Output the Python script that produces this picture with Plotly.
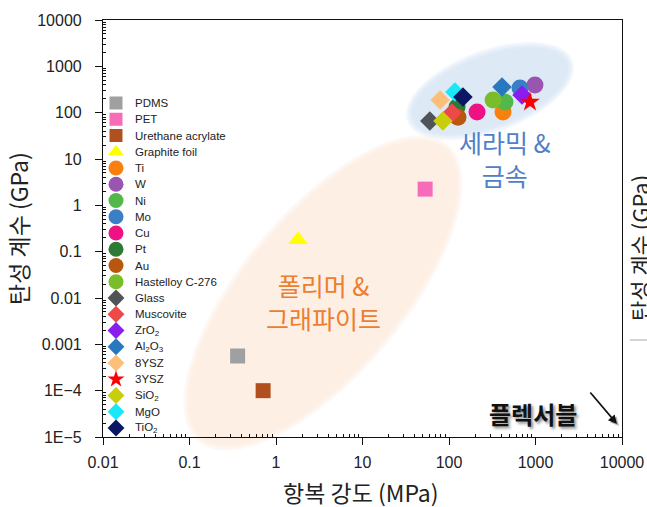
import numpy as np
import plotly.graph_objects as go

# ---- data: yield strength (MPa) vs. elastic modulus (GPa) ----
materials = ["PDMS", "PET", "Urethane acrylate", "Graphite foil", "Ti", "W", "Ni", "Mo",
             "Cu", "Pt", "Au", "Hastelloy C-276", "Glass", "Muscovite", "ZrO<sub>2</sub>",
             "Al<sub>2</sub>O<sub>3</sub>", "8YSZ", "3YSZ", "SiO<sub>2</sub>", "MgO", "TiO<sub>2</sub>"]
yield_strength = [0.36, 53, 0.71, 1.8, 421, 986, 444, 662,
                  211, 124, 127, 323, 60, 108, 698,
                  410, 79, 863, 85, 117, 145]
modulus = [0.00056, 2.24, 0.0001, 0.18, 103, 394, 169, 340,
           103, 132, 80, 187, 66, 98, 240,
           357, 187, 169, 66, 279, 217]
symbols = ["square", "square", "square", "triangle-up", "circle", "circle", "circle", "circle",
           "circle", "circle", "circle", "circle", "diamond", "diamond", "diamond",
           "diamond", "diamond", "star", "diamond", "diamond", "diamond"]
colors = ["#a0a0a0", "#f76cb8", "#b0501e", "#ffff00", "#f7800f", "#9a55b0", "#52b84a", "#3a7fc6",
          "#ee1285", "#2d7a35", "#b9560f", "#79bd2b", "#4f5459", "#ee4848", "#8a1cf0",
          "#2878c0", "#fcbf7a", "#ff0000", "#c7cf0a", "#1ae8f8", "#0b1763"]
sizes = {"square": 15, "triangle-up": 17, "circle": 17, "diamond": 15, "star": 15}
key_sizes = {"square": 13, "triangle-up": 14, "circle": 15, "diamond": 13, "star": 13}

x_ticks = [0.01, 0.1, 1, 10, 100, 1000, 10000]
x_ticktext = ["0.01", "0.1", "1", "10", "100", "1000", "10000"]
y_ticks = [1e-5, 1e-4, 1e-3, 0.01, 0.1, 1, 10, 100, 1000, 10000]
y_ticktext = ["1E\u22125", "1E\u22124", "0.001", "0.01", "0.1", "1", "10", "100", "1000", "10000"]

# ---- layout geometry ----
W, H = 647, 507
ML, MR, MT, MB = 103, 25, 20, 70
PW, PH = W - ML - MR, H - MT - MB

TXT = "Liberation Sans, Arial, Noto Sans CJK KR"
KR = "Noto Sans CJK KR, Liberation Sans"


def px_to_paper(px, py):
    return (px - ML) / PW, (H - MB - py) / PH


def ellipse_path(cx, cy, a, b, ang_deg, n=90):
    t = np.linspace(0, 2 * np.pi, n, endpoint=False)
    th = np.radians(ang_deg)
    ex = cx + a * np.cos(t) * np.cos(th) - b * np.sin(t) * np.sin(th)
    ey = cy - (a * np.cos(t) * np.sin(th) + b * np.sin(t) * np.cos(th))
    pts = [px_to_paper(u, v) for u, v in zip(ex, ey)]
    return "M " + " L ".join(f"{u:.4f},{v:.4f}" for u, v in pts) + " Z"


fig = go.Figure()

for name, xv, yv, sym, col in zip(materials, yield_strength, modulus, symbols, colors):
    fig.add_trace(go.Scatter(
        x=[xv], y=[yv], mode="markers", name=name, showlegend=False,
        marker=dict(symbol=sym, color=col, size=sizes[sym], opacity=1, line=dict(width=0)),
    ))

# ---- compact key drawn on an overlay axis spanning the plot area ----
KEY_X, KEY_Y0, KEY_DY = 116, 103, 16.25
key_pts = [px_to_paper(KEY_X, KEY_Y0 + i * KEY_DY) for i in range(len(materials))]
fig.add_trace(go.Scatter(
    x=[p[0] for p in key_pts], y=[p[1] for p in key_pts], xaxis="x2", yaxis="y2",
    mode="markers", showlegend=False, hoverinfo="skip",
    marker=dict(symbol=symbols, color=colors, size=[key_sizes[s] for s in symbols],
                opacity=1, line=dict(width=0)),
))

# soft-edged background regions
shapes = []
for k, alpha in enumerate([0.35, 0.45, 0.6, 1.0]):
    grow = 6 - 2 * k
    shapes.append(dict(type="path", xref="paper", yref="paper", layer="below",
                       path=ellipse_path(323, 293, 188 + grow, 76 + grow, 50),
                       fillcolor=f"rgba(253,239,228,{alpha})", line=dict(width=0)))
    shapes.append(dict(type="path", xref="paper", yref="paper", layer="below",
                       path=ellipse_path(490, 91, 82 + grow, 35 + grow, 20),
                       fillcolor=f"rgba(222,233,246,{alpha})", line=dict(width=0)))
# edge of the neighbouring panel
e0, e1 = px_to_paper(630, 340), px_to_paper(650, 340)
shapes.append(dict(type="line", xref="paper", yref="paper", x0=e0[0], x1=e1[0], y0=e0[1], y1=e1[1],
                   line=dict(color="#aaaaaa", width=1)))

annotations = []


def add_text(px, py, text, size, color, family=KR, xanchor="center", angle=0, align="center",
             **fkw):
    x, y = px_to_paper(px, py)
    annotations.append(dict(x=x, y=y, xref="paper", yref="paper", text=text, showarrow=False,
                            xanchor=xanchor, yanchor="middle", textangle=angle, align=align,
                            font=dict(family=family, size=size, color=color, **fkw)))


for i, name in enumerate(materials):
    add_text(KEY_X + 17, KEY_Y0 + i * KEY_DY, name, 11.5, "#222222", family=TXT, xanchor="left")

add_text(323, 301, "폴리머 &<br>그래파이트", 25, "#ed7d31")
add_text(505, 158, "세라믹 &<br>금속", 25, "#4f81c8")
add_text(533, 413, "<b>플렉서블</b>", 24, "#111111", shadow="2px 2px 3px #888888")

# axis titles
add_text(361, 492, "항복 강도 (MPa)", 23, "#222222")
add_text(18, 229, "탄성 계수 (GPa)", 23, "#222222", angle=-90)
# y-axis title of the neighbouring panel, cut at the page edge
add_text(639, 248, "탄성 계수 (GPa)", 22, "#222222", angle=-90)

# arrow toward the flexible corner (with a soft shadow)
for dx, dy, col in [(2, 2, "rgba(120,120,120,0.55)"), (0, 0, "#111111")]:
    tx, ty = px_to_paper(617 + dx, 424 + dy)
    annotations.append(dict(x=tx, y=ty, xref="paper", yref="paper", ax=-28, ay=-33,
                            showarrow=True, arrowhead=2, arrowsize=1.1, arrowwidth=1.6,
                            arrowcolor=col, text=""))


def minor_vals(lo, hi):
    return [m * 10.0 ** e for e in range(lo, hi) for m in range(2, 10)]


axis_common = dict(type="log", showgrid=False, zeroline=False, showline=True, linecolor="#111111",
                   linewidth=1.2, mirror=True, ticks="outside", ticklen=7, tickwidth=1,
                   tickcolor="#111111", automargin=False,
                   tickfont=dict(family=TXT, size=16, color="#222222"))

fig.update_layout(
    width=W, height=H,
    margin=dict(l=ML, r=MR, t=MT, b=MB),
    paper_bgcolor="white", plot_bgcolor="white",
    shapes=shapes, annotations=annotations, showlegend=False,
    xaxis=dict(**axis_common, range=[-2, 4], tickmode="array", tickvals=x_ticks,
               ticktext=x_ticktext, ticklabelstandoff=4,
               minor=dict(tickmode="array", tickvals=minor_vals(-2, 4), ticks="inside",
                          ticklen=3, tickcolor="#111111", showgrid=False)),
    yaxis=dict(**axis_common, range=[-5, 4], tickmode="array", tickvals=y_ticks,
               ticktext=y_ticktext, ticklabelstandoff=10,
               minor=dict(tickmode="array", tickvals=minor_vals(-5, 4), ticks="inside",
                          ticklen=3, tickcolor="#111111", showgrid=False)),
    xaxis2=dict(overlaying="x", range=[0, 1], visible=False, fixedrange=True),
    yaxis2=dict(overlaying="y", range=[0, 1], visible=False, fixedrange=True),
)

fig.write_html("out.html")
